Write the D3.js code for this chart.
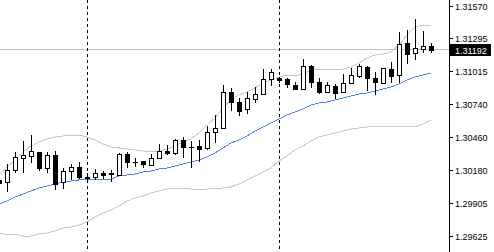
<!DOCTYPE html>
<html><head><meta charset="utf-8">
<script src="https://cdn.jsdelivr.net/npm/d3@7"></script>
<style>
html,body{margin:0;padding:0;background:#fff;}
svg{display:block;}
</style>
</head><body>
<svg id="chart" width="494" height="252"></svg>
<script>
const opens = [1.30098,1.30081,1.30182,1.30283,1.30300,1.30334,1.30199,1.30308,1.30081,1.30174,1.30208,1.30123,1.30123,1.30157,1.30153,1.30140,1.30317,1.30250,1.30258,1.30224,1.30283,1.30342,1.30325,1.30435,1.30376,1.30384,1.30368,1.30503,1.30536,1.30840,1.30756,1.30697,1.30781,1.30823,1.30950,1.30958,1.30950,1.30899,1.30865,1.31059,1.30924,1.30840,1.30891,1.30840,1.30916,1.30975,1.31051,1.30958,1.30916,1.31034,1.30984,1.31254,1.31169,1.31203,1.31228];
const highs = [1.30114,1.30233,1.30334,1.30427,1.30477,1.30334,1.30334,1.30342,1.30199,1.30233,1.30250,1.30157,1.30191,1.30174,1.30182,1.30325,1.30334,1.30283,1.30258,1.30317,1.30401,1.30393,1.30444,1.30460,1.30427,1.30435,1.30553,1.30646,1.30899,1.30874,1.30790,1.30840,1.30882,1.31034,1.31034,1.30967,1.30958,1.30924,1.31119,1.31068,1.30958,1.30924,1.30908,1.30992,1.31043,1.31076,1.31059,1.31009,1.31043,1.31093,1.31346,1.31363,1.31456,1.31355,1.31254];
const lows = [1.30055,1.30005,1.30165,1.30165,1.30250,1.30182,1.30165,1.30022,1.30030,1.30106,1.30114,1.30081,1.30106,1.30114,1.30089,1.30140,1.30208,1.30216,1.30208,1.30224,1.30283,1.30317,1.30317,1.30292,1.30208,1.30258,1.30359,1.30418,1.30536,1.30688,1.30646,1.30663,1.30756,1.30823,1.30899,1.30924,1.30882,1.30865,1.30865,1.30882,1.30832,1.30840,1.30790,1.30840,1.30916,1.30967,1.30857,1.30823,1.30916,1.30924,1.30924,1.31085,1.31119,1.31178,1.31178];
const closes = [1.30072,1.30182,1.30292,1.30308,1.30342,1.30199,1.30308,1.30064,1.30174,1.30208,1.30123,1.30114,1.30157,1.30140,1.30148,1.30317,1.30250,1.30250,1.30233,1.30283,1.30342,1.30325,1.30435,1.30376,1.30376,1.30359,1.30503,1.30536,1.30840,1.30756,1.30680,1.30790,1.30823,1.30950,1.31009,1.30941,1.30908,1.30865,1.31059,1.30924,1.30840,1.30899,1.30832,1.30916,1.30984,1.31059,1.30958,1.30924,1.31043,1.30975,1.31245,1.31161,1.31211,1.31228,1.31192];
const upperBand = [1.30140,1.30207,1.30266,1.30334,1.30385,1.30418,1.30444,1.30460,1.30469,1.30477,1.30477,1.30460,1.30435,1.30401,1.30376,1.30368,1.30359,1.30351,1.30342,1.30334,1.30342,1.30359,1.30385,1.30418,1.30444,1.30494,1.30562,1.30621,1.30705,1.30781,1.30815,1.30840,1.30874,1.30916,1.30941,1.30967,1.30984,1.30975,1.30992,1.31026,1.31026,1.31034,1.31034,1.31034,1.31051,1.31085,1.31127,1.31152,1.31161,1.31178,1.31237,1.31321,1.31389,1.31405,1.31405];
const middleBand = [1.29895,1.29920,1.29954,1.29979,1.30005,1.30030,1.30047,1.30064,1.30081,1.30089,1.30098,1.30098,1.30098,1.30098,1.30106,1.30131,1.30140,1.30148,1.30165,1.30173,1.30190,1.30199,1.30216,1.30233,1.30250,1.30266,1.30292,1.30325,1.30368,1.30410,1.30435,1.30469,1.30511,1.30545,1.30579,1.30612,1.30646,1.30671,1.30697,1.30730,1.30747,1.30756,1.30773,1.30790,1.30806,1.30823,1.30832,1.30849,1.30865,1.30882,1.30908,1.30941,1.30967,1.30984,1.31000];
const lowerBand = [1.29650,1.29633,1.29642,1.29625,1.29625,1.29642,1.29650,1.29667,1.29693,1.29701,1.29718,1.29743,1.29785,1.29819,1.29844,1.29878,1.29920,1.29946,1.29963,1.29988,1.30005,1.30022,1.30022,1.30022,1.30022,1.30013,1.30022,1.30030,1.30030,1.30039,1.30064,1.30098,1.30131,1.30165,1.30199,1.30258,1.30300,1.30351,1.30385,1.30427,1.30460,1.30477,1.30494,1.30511,1.30528,1.30536,1.30545,1.30545,1.30545,1.30553,1.30553,1.30545,1.30545,1.30570,1.30604];
const tickValues = [1.31570,1.31295,1.31015,1.30740,1.30460,1.30180,1.29905,1.29625];
const tickLabels = ["1.31570","1.31295","1.31015","1.30740","1.30460","1.30180","1.29905","1.29625"];
const separators = [11, 35];
const currentPrice = 1.31192;
const currentLabel = "1.31192";

const svg = d3.select("#chart");
const W = 494, H = 252, axisX = 449;
const x = d3.scaleLinear().domain([0, 54]).range([-1, 431]);
const y = d3.scaleLinear().domain([1.29625, 1.31570]).range([236, 5.5]);
const py = v => Math.round(y(v));

const plot = svg.append("g");

plot.append("line").attr("x1",0).attr("x2",axisX).attr("y1",py(currentPrice)-0.5).attr("y2",py(currentPrice)-0.5)
  .attr("stroke","#c0c0c0").attr("stroke-width",1).attr("shape-rendering","crispEdges");

separators.forEach(i => {
  plot.append("line").attr("x1",Math.round(x(i))+0.5).attr("x2",Math.round(x(i))+0.5).attr("y1",0).attr("y2",H)
    .attr("stroke","#000").attr("stroke-width",1).attr("stroke-dasharray","3,3").attr("shape-rendering","crispEdges");
});

const idx = d3.range(opens.length);
const bandLine = arr => d3.line().x(i => x(i)).y(i => y(arr[i]))(idx);
plot.append("path").attr("d", bandLine(upperBand)).attr("fill","none").attr("stroke","#d8bcd8").attr("stroke-width",1).attr("shape-rendering","crispEdges");
plot.append("path").attr("d", bandLine(lowerBand)).attr("fill","none").attr("stroke","#d8bcd8").attr("stroke-width",1).attr("shape-rendering","crispEdges");
plot.append("path").attr("d", bandLine(middleBand)).attr("fill","none").attr("stroke","#4f86e6").attr("stroke-width",1).attr("shape-rendering","crispEdges");

idx.forEach(i => {
  const cx = Math.round(x(i));
  const o = py(opens[i]), c = py(closes[i]), h = py(highs[i]), l = py(lows[i]);
  const g = plot.append("g").attr("shape-rendering","crispEdges");
  g.append("line").attr("x1",cx+0.5).attr("x2",cx+0.5).attr("y1",h).attr("y2",l+1).attr("stroke","#000");
  const top = Math.min(o,c), bot = Math.max(o,c);
  if (bot - top < 1) {
    g.append("line").attr("x1",cx-2).attr("x2",cx+3).attr("y1",top+0.5).attr("y2",top+0.5).attr("stroke","#000");
  } else if (closes[i] >= opens[i]) {
    g.append("rect").attr("x",cx-1.5).attr("y",top+0.5).attr("width",4).attr("height",bot-top)
      .attr("fill","#fff").attr("stroke","#000").attr("stroke-width",1);
  } else {
    g.append("rect").attr("x",cx-2).attr("y",top).attr("width",5).attr("height",bot-top+1).attr("fill","#000");
  }
});

svg.append("rect").attr("x",axisX+0.5).attr("y",0).attr("width",W).attr("height",H).attr("fill","#fff");
svg.append("line").attr("x1",axisX+0.5).attr("x2",axisX+0.5).attr("y1",0).attr("y2",H).attr("stroke","#000").attr("shape-rendering","crispEdges");
const axisG = svg.append("g");
tickValues.forEach((v,k) => {
  const ty = py(v);
  axisG.append("line").attr("x1",axisX).attr("x2",axisX+4).attr("y1",ty+0.5).attr("y2",ty+0.5).attr("stroke","#000").attr("shape-rendering","crispEdges");
  axisG.append("text").attr("x",455).attr("y",ty+3.5).text(tickLabels[k])
    .attr("font-family","Liberation Sans, Arial, sans-serif").attr("font-size","9px").attr("fill","#000");
});
const cy = py(currentPrice);
axisG.append("rect").attr("x",450).attr("y",cy-6).attr("width",41).attr("height",12).attr("fill","#000");
axisG.append("text").attr("x",455).attr("y",cy+3.5).text(currentLabel)
  .attr("font-family","Liberation Sans, Arial, sans-serif").attr("font-size","9px").attr("fill","#fff");
</script>
</body></html>
